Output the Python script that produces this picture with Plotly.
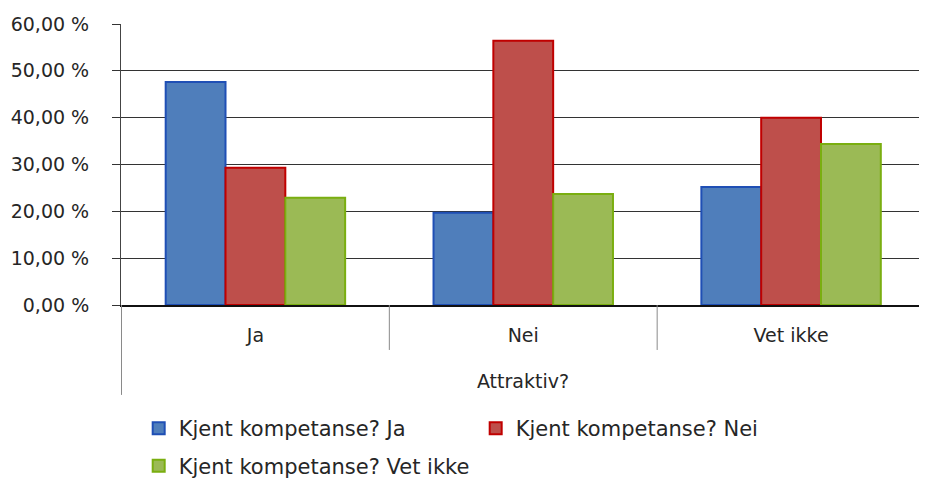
import plotly.graph_objects as go

# Categories (x axis) and series values, fractions
categories = ["Ja", "Nei", "Vet ikke"]
series_names = ["Kjent kompetanse? Ja", "Kjent kompetanse? Nei", "Kjent kompetanse? Vet ikke"]
ja_vals = [0.476, 0.197, 0.252]
nei_vals = [0.293, 0.564, 0.400]
vetikke_vals = [0.229, 0.237, 0.344]

tick_vals = [0, 0.1, 0.2, 0.3, 0.4, 0.5, 0.6]
tick_text = ["0,00 %", "10,00 %", "20,00 %", "30,00 %", "40,00 %", "50,00 %", "60,00 %"]

fill_colors = ["#4F7EBB", "#BE4F4B", "#9BBA55"]
edge_colors = ["#1F4FB5", "#C00000", "#7AAE10"]

FONT = "DejaVu Sans"

fig = go.Figure()
for i, (name, vals) in enumerate(zip(series_names, [ja_vals, nei_vals, vetikke_vals])):
    fig.add_trace(go.Bar(
        x=categories, y=vals, name=name,
        marker=dict(color=fill_colors[i], line=dict(color=edge_colors[i], width=2)),
        legend="legend" if i < 2 else "legend2",
    ))

# category separators below the x axis
for xpos, bottom in [(-0.5, -0.32), (0.5, -0.16), (1.5, -0.16)]:
    fig.add_shape(type="line", xref="x", yref="paper", x0=xpos, x1=xpos,
                  y0=0, y1=bottom, line=dict(color="#8a8a8a", width=1))

# page body has an 8px margin, so everything is laid out 8px up/left
fig.update_layout(
    width=927, height=479,
    margin=dict(l=113, r=10, t=16, b=182, autoexpand=False),
    paper_bgcolor="white", plot_bgcolor="white",
    barmode="group", bargap=0.33, bargroupgap=0,
    font=dict(family=FONT, size=19, color="#262626"),
    xaxis=dict(
        automargin=False,
        showline=True, linecolor="#111111", linewidth=1.5,
        ticks="", ticklabelstandoff=12,
        tickfont=dict(size=19),
        title=dict(text="Attraktiv?", standoff=30, font=dict(size=19)),
    ),
    yaxis=dict(
        automargin=False,
        range=[0, 0.6], tickvals=tick_vals, ticktext=tick_text,
        showgrid=True, gridcolor="#333333", gridwidth=1.2,
        showline=True, linecolor="#444444", linewidth=1,
        ticks="outside", ticklen=8, tickcolor="#333333",
        ticklabelstandoff=19, tickfont=dict(size=19),
        zeroline=False,
    ),
    legend=dict(orientation="h", x=0.022, xanchor="left", y=-0.367, yanchor="top",
                entrywidth=292, font=dict(size=21)),
    legend2=dict(orientation="h", x=0.022, xanchor="left", y=-0.5, yanchor="top",
                 font=dict(size=21)),
)

fig.write_html("out.html")
